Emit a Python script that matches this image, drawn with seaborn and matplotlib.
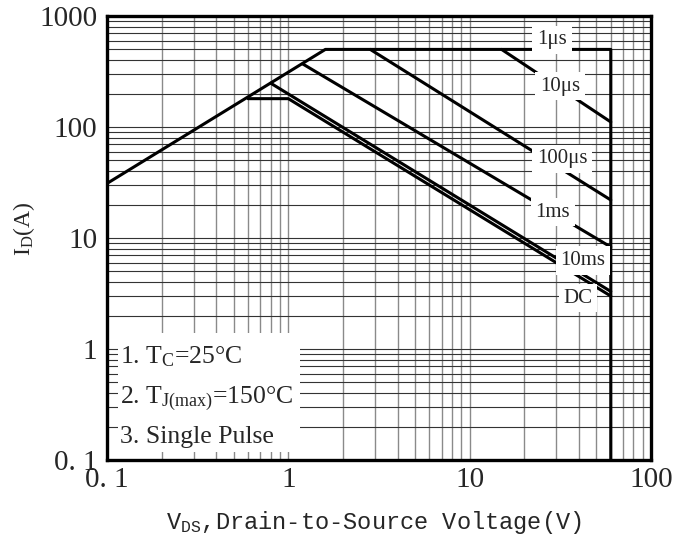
import matplotlib
matplotlib.use('Agg')
import matplotlib.pyplot as plt
import seaborn as sns
import pandas as pd
from matplotlib.ticker import FixedLocator, FixedFormatter, LogLocator, NullFormatter
from matplotlib.patches import Rectangle

# ---------------- data ----------------
series_names = ['1μs', '10μs', '100μs', '1ms', '10ms', 'DC']
us1_v = [0.1, 1.6, 60, 60]
us1_i = [31, 500, 500, 0.1]
us10_v = [15, 60]
us10_i = [500, 111]
us100_v = [2.83, 60]
us100_i = [500, 22]
ms1_v = [1.2, 60]
ms1_i = [370, 8.3]
ms10_v = [0.8, 60]
ms10_i = [248, 3.3]
dc_v = [0.6, 1.0, 60]
dc_i = [180, 180, 3.0]

label_v = [28.5, 31.5, 32.3, 28.8, 42.2, 39.6]
label_i = [608, 234, 51.5, 17.1, 6.3, 2.88]

x_ticks = [0.1, 1, 10, 100]
x_tick_labels = ['0. 1', '1', '10', '100']
y_ticks = [0.1, 1, 10, 100, 1000]
y_tick_labels = ['0. 1', '1', '10', '100', '1000']

notes = ['1. $\\mathregular{T_C}$=25°C',
         '2. $\\mathregular{T_{J(max)}}$=150°C',
         '3. Single Pulse']

xlabel = '$\\mathregular{V_{DS}}$,Drain-to-Source Voltage(V)'
ylabel = '$\\mathregular{I_D}$(A)'

# ---------------- build table ----------------
vs = [us1_v, us10_v, us100_v, ms1_v, ms10_v, dc_v]
cs = [us1_i, us10_i, us100_i, ms1_i, ms10_i, dc_i]
rows = []
for name, v, c in zip(series_names, vs, cs):
    for k, (a, b) in enumerate(zip(v, c)):
        rows.append({'series': name, 'k': k, 'V': a, 'I': b})
df = pd.DataFrame(rows)

sns.set_style('white')
plt.rcParams['font.family'] = ['Liberation Serif', 'DejaVu Serif']
plt.rcParams['mathtext.fontset'] = 'custom'

fig = plt.figure(figsize=(6.88, 5.44), dpi=100)
ax = fig.add_axes([107/688, 1 - 460/544, (651 - 107)/688, (460 - 16)/544])

sns.lineplot(data=df, x='V', y='I', hue='series', units='series',
             estimator=None, sort=False,
             palette={n: 'black' for n in series_names},
             legend=False, linewidth=2.2, ax=ax, zorder=3)

ax.set_xscale('log')
ax.set_yscale('log')
ax.set_xlim(0.1, 100)
ax.set_ylim(0.1, 1000)

ax.xaxis.set_major_locator(FixedLocator(x_ticks))
ax.xaxis.set_major_formatter(FixedFormatter(x_tick_labels))
ax.yaxis.set_major_locator(FixedLocator(y_ticks))
ax.yaxis.set_major_formatter(FixedFormatter(y_tick_labels))
ax.xaxis.set_minor_locator(LogLocator(base=10, subs=range(2, 10)))
ax.yaxis.set_minor_locator(LogLocator(base=10, subs=range(2, 10)))
ax.xaxis.set_minor_formatter(NullFormatter())
ax.yaxis.set_minor_formatter(NullFormatter())

ax.set_axisbelow(True)
ax.xaxis.grid(True, which='both', color='#8a8a8a', linewidth=1.0)
ax.yaxis.grid(True, which='both', color='#333333', linewidth=0.8)

ax.tick_params(which='both', length=0)
ax.tick_params(axis='x', labelsize=21, pad=5)
ax.tick_params(axis='y', labelsize=21, pad=7)

for sp in ax.spines.values():
    sp.set_visible(True)
    sp.set_color('black')
    sp.set_linewidth(2.4)

ax.set_xlabel(xlabel, family='Liberation Mono', fontsize=17)
ax.set_ylabel(ylabel, family='Liberation Serif', fontsize=17)
ax.yaxis.set_label_coords(-0.128, 0.52)
ax.xaxis.set_label_coords(0.49, -0.11)

# curve labels with white boxes
for name, lv, li in zip(series_names, label_v, label_i):
    ax.text(lv, li, name, fontsize=15, ha='center', va='center', zorder=6,
            bbox=dict(facecolor='white', edgecolor='none', pad=3.5))

# notes box in lower left
ax.add_patch(Rectangle((0.02, 0.018), 0.335, 0.268, transform=ax.transAxes,
                       facecolor='white', edgecolor='none', zorder=4))
note_y = [0.218, 0.128, 0.038]
for t, yy in zip(notes, note_y):
    ax.text(0.024, yy, t, transform=ax.transAxes, fontsize=18.5,
            ha='left', va='baseline', zorder=5)

fig.savefig('out.png', dpi=100)
